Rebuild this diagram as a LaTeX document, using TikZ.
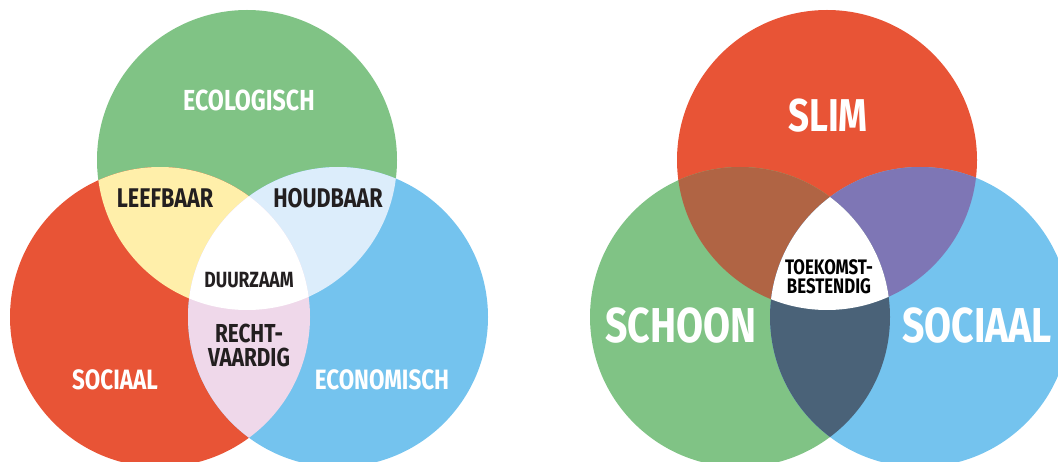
\documentclass[tikz,border=0pt]{standalone}
\usepackage{fontspec}
\newfontfamily\lblfont{Fira Sans}[FakeStretch=0.8]
\definecolor{cgreen}{HTML}{80C385}
\definecolor{cred}{HTML}{E85436}
\definecolor{cblue}{HTML}{74C3EE}
\definecolor{cyellow}{HTML}{FFEFAA}
\definecolor{clblue}{HTML}{DCEDFB}
\definecolor{cpink}{HTML}{EFD8EA}
\definecolor{cbrown}{HTML}{B06444}
\definecolor{cpurple}{HTML}{7E76B5}
\definecolor{cslate}{HTML}{4A6278}
\definecolor{cdark}{HTML}{231F20}
\tikzset{
  lbl/.style={font=\lblfont\bfseries\fontsize{#1}{#1}\selectfont, inner sep=0pt, align=center},
  wlbl/.style={lbl=#1, text=white},
  dlbl/.style={lbl=#1, text=cdark},
  capbox/.style={text height=14.5pt, text depth=0pt},
}
\begin{document}
\begin{tikzpicture}[x=1pt,y=-1pt]
\useasboundingbox (0,0) rectangle (1058,462);
% left diagram
\coordinate (G) at (247,160);
\coordinate (R) at (160,317);
\coordinate (B) at (338,317);
\fill[cgreen] (G) circle (150pt);
\fill[cred] (R) circle (150pt);
\fill[cblue] (B) circle (150pt);
\begin{scope}
  \clip (G) circle (150pt);
  \fill[cyellow] (R) circle (150pt);
  \fill[clblue] (B) circle (150pt);
\end{scope}
\begin{scope}
  \clip (R) circle (150pt);
  \fill[cpink] (B) circle (150pt);
  \clip (B) circle (150pt);
  \fill[white] (G) circle (150pt);
\end{scope}
\node[wlbl=29] (eco) at (249,100) {ECOLOGISCH};
\node[dlbl=27] (leef) at (165,198) {LEEFBAAR};
\node[dlbl=27] (houd) at (328,198) {HOUDBAAR};
\node[dlbl=22] (duur) at (249,280) {DUURZAAM};
\node[dlbl=26] (rechta) at (249,333) {RECHT-};
\node[dlbl=26] (rechtb) at (249,357) {VAARDIG};
\node[wlbl=28] (soc) at (115,380) {SOCIAAL};
\node[wlbl=28] (econ) at (382,380) {ECONOMISCH};
% right diagram
\coordinate (R2) at (827,160);
\coordinate (G2) at (740,317);
\coordinate (B2) at (920,317);
\fill[cred] (R2) circle (150pt);
\fill[cgreen] (G2) circle (150pt);
\fill[cblue] (B2) circle (150pt);
\begin{scope}
  \clip (R2) circle (150pt);
  \fill[cbrown] (G2) circle (150pt);
  \fill[cpurple] (B2) circle (150pt);
\end{scope}
\begin{scope}
  \clip (G2) circle (150pt);
  \fill[cslate] (B2) circle (150pt);
  \clip (B2) circle (150pt);
  \fill[white] (R2) circle (150pt);
\end{scope}
\node[wlbl=46] (slim) at (828,116) {SLIM};
\node[lbl=21, capbox, text=black] (toeka) at (829,267) {TOEKOMST-};
\node[lbl=21, capbox, text=black] (toekb) at (829,286) {BESTENDIG};
\node[wlbl=49] (schoon) at (681,326) {SCHOON};
\node[wlbl=49] (sociaal) at (977,326) {SOCIAAL};
\end{tikzpicture}
\end{document}
